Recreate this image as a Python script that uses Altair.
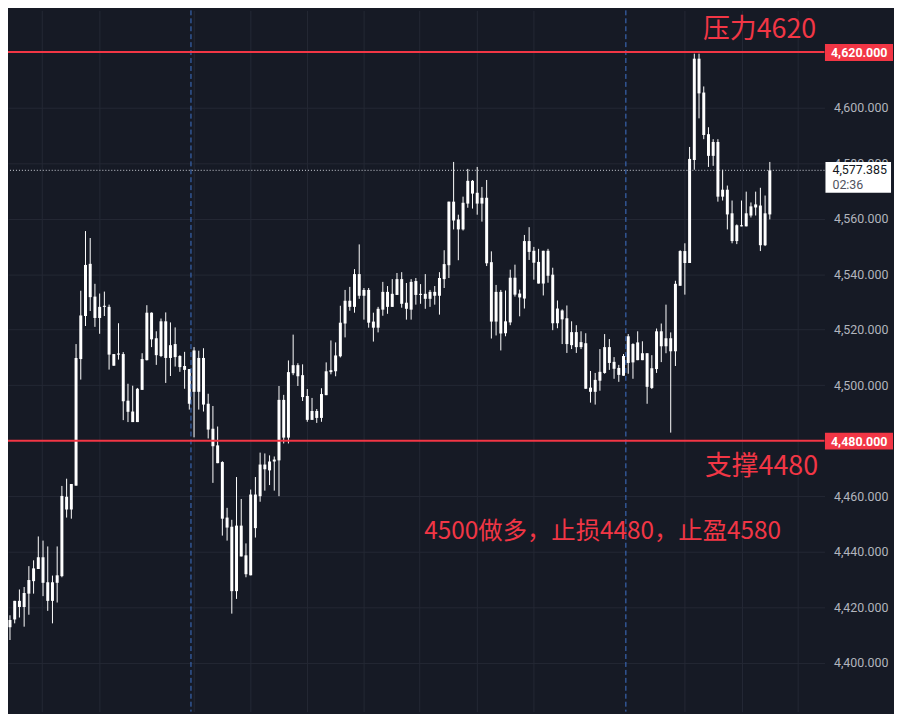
import altair as alt
import pandas as pd

# ---------------- data ----------------
open_ = [
    4412.8, 4415.6, 4422.3, 4420.1, 4424.9, 4429.4, 4433.8, 4438.0, 4429.0, 4422.3,
    4428.8, 4431.2, 4459.8, 4455.2, 4463.8, 4509.4, 4524.9, 4543.7, 4531.9, 4524.2,
    4528.2, 4528.2, 4511.2, 4511.0, 4511.2, 4494.4, 4490.5, 4486.7, 4498.3, 4509.0,
    4526.1, 4516.9, 4510.5, 4523.0, 4509.8, 4514.8, 4510.5, 4506.9, 4505.8, 4497.6,
    4509.8, 4509.8, 4493.3, 4484.3, 4478.3, 4472.3, 4452.3, 4449.0, 4425.8, 4449.4,
    4438.7, 4431.5, 4460.6, 4460.0, 4471.4, 4469.3, 4472.5, 4472.9, 4494.7, 4481.1,
    4504.3, 4507.2, 4503.6, 4496.1, 4487.5, 4490.7, 4488.2, 4496.4, 4505.4, 4505.0,
    4510.4, 4522.2, 4530.4, 4528.2, 4540.0, 4532.2, 4534.3, 4522.9, 4520.7, 4527.2,
    4533.6, 4528.2, 4532.5, 4538.2, 4529.7, 4527.2, 4537.5, 4532.5, 4532.9, 4531.1,
    4533.6, 4532.2, 4538.2, 4543.2, 4566.1, 4559.7, 4556.1, 4565.4, 4573.6, 4569.3,
    4565.4, 4567.5, 4544.3, 4522.9, 4533.6, 4518.7, 4522.6, 4538.7, 4533.0, 4531.2,
    4551.9, 4548.4, 4544.4, 4536.6, 4548.4, 4539.8, 4522.3, 4526.9, 4524.1, 4514.4,
    4519.1, 4513.7, 4515.1, 4499.1, 4497.6, 4501.6, 4504.4, 4513.7, 4508.4, 4506.2,
    4503.4, 4508.0, 4514.8, 4509.0, 4511.5, 4511.5, 4499.0, 4505.8, 4519.4, 4514.0,
    4516.9, 4512.2, 4535.8, 4548.3, 4544.0, 4581.1, 4617.6, 4605.4, 4590.4, 4582.6,
    4587.6, 4567.9, 4570.4, 4561.9, 4551.9, 4557.6, 4557.2, 4561.1, 4564.0, 4564.7,
    4550.4, 4561.5,
]
close = [
    4415.4, 4422.3, 4420.1, 4425.1, 4429.8, 4434.0, 4438.0, 4428.8, 4422.3, 4429.0,
    4431.5, 4460.1, 4455.2, 4464.4, 4509.8, 4525.1, 4543.3, 4531.7, 4524.2, 4528.2,
    4528.6, 4511.0, 4507.0, 4511.4, 4494.2, 4490.4, 4486.7, 4498.7, 4509.4, 4526.1,
    4516.5, 4510.8, 4523.0, 4509.8, 4514.4, 4510.1, 4506.5, 4505.5, 4493.3, 4512.5,
    4497.6, 4493.0, 4484.0, 4478.0, 4471.9, 4451.9, 4448.7, 4425.8, 4449.4, 4438.3,
    4431.9, 4460.6, 4448.5, 4471.4, 4469.7, 4472.5, 4473.2, 4494.7, 4481.1, 4504.7,
    4507.2, 4503.2, 4495.7, 4487.5, 4490.7, 4488.2, 4496.8, 4505.0, 4504.7, 4510.7,
    4522.5, 4530.4, 4528.2, 4540.0, 4532.2, 4534.3, 4522.5, 4520.7, 4527.5, 4533.6,
    4528.2, 4532.9, 4538.2, 4529.3, 4527.5, 4537.2, 4532.5, 4532.9, 4531.1, 4533.6,
    4532.2, 4538.6, 4543.6, 4566.1, 4559.3, 4556.1, 4565.7, 4573.6, 4569.0, 4565.4,
    4567.5, 4543.9, 4522.9, 4533.6, 4518.6, 4523.0, 4538.7, 4532.6, 4531.6, 4551.9,
    4548.0, 4544.1, 4536.6, 4548.4, 4539.4, 4522.3, 4527.6, 4523.7, 4514.8, 4519.1,
    4513.7, 4515.5, 4498.7, 4497.6, 4501.9, 4504.8, 4513.7, 4508.0, 4505.9, 4503.7,
    4510.5, 4517.6, 4508.2, 4515.4, 4509.0, 4499.4, 4506.1, 4519.4, 4514.0, 4516.9,
    4512.2, 4536.5, 4548.3, 4544.0, 4581.5, 4617.6, 4605.1, 4590.1, 4582.6, 4587.6,
    4567.9, 4570.4, 4561.5, 4551.9, 4557.6, 4557.2, 4561.9, 4564.4, 4565.1, 4550.4,
    4561.9, 4577.385,
]
high = [
    4417.1, 4422.3, 4426.4, 4427.3, 4434.8, 4436.9, 4445.5, 4444.0, 4441.9, 4431.4,
    4441.9, 4463.7, 4466.3, 4464.4, 4514.8, 4534.0, 4555.5, 4553.0, 4536.5, 4533.0,
    4533.7, 4529.0, 4511.2, 4522.3, 4511.9, 4500.5, 4499.8, 4499.0, 4511.5, 4528.8,
    4526.2, 4519.4, 4524.0, 4526.2, 4522.6, 4520.8, 4510.8, 4512.0, 4505.8, 4513.7,
    4512.4, 4513.3, 4496.9, 4492.5, 4485.1, 4472.6, 4455.8, 4451.5, 4466.9, 4459.0,
    4443.0, 4462.4, 4466.9, 4475.7, 4475.4, 4474.7, 4474.3, 4499.7, 4496.5, 4508.9,
    4518.2, 4507.9, 4507.5, 4498.6, 4495.4, 4491.4, 4498.9, 4508.2, 4516.1, 4515.4,
    4528.6, 4534.3, 4535.4, 4541.8, 4550.7, 4535.0, 4535.0, 4526.1, 4528.2, 4537.2,
    4535.7, 4538.2, 4540.4, 4540.7, 4536.8, 4538.2, 4538.6, 4536.4, 4540.0, 4534.3,
    4535.7, 4540.7, 4548.6, 4566.1, 4580.4, 4561.4, 4567.9, 4577.9, 4573.9, 4578.6,
    4571.4, 4573.9, 4548.2, 4536.1, 4534.3, 4534.1, 4541.6, 4543.4, 4534.4, 4554.1,
    4556.9, 4549.8, 4549.1, 4548.4, 4549.1, 4542.3, 4530.5, 4527.3, 4528.7, 4523.0,
    4521.6, 4519.4, 4518.7, 4505.1, 4504.4, 4513.0, 4518.4, 4516.6, 4510.1, 4507.3,
    4511.2, 4518.4, 4515.1, 4519.4, 4515.8, 4511.5, 4510.8, 4520.4, 4522.2, 4529.0,
    4519.0, 4537.6, 4548.6, 4551.1, 4585.8, 4619.4, 4619.4, 4607.6, 4592.9, 4588.6,
    4588.6, 4577.6, 4571.9, 4566.5, 4557.9, 4566.5, 4569.7, 4565.8, 4569.7, 4571.1,
    4568.3, 4580.4,
]
low = [
    4408.2, 4414.2, 4416.3, 4413.0, 4417.3, 4424.9, 4433.8, 4424.0, 4418.7, 4414.2,
    4421.7, 4430.8, 4452.3, 4451.9, 4463.8, 4502.0, 4521.3, 4526.7, 4521.0, 4518.5,
    4524.9, 4505.6, 4507.0, 4509.2, 4487.4, 4486.7, 4486.7, 4486.7, 4498.3, 4508.9,
    4513.7, 4507.3, 4510.1, 4500.8, 4503.3, 4506.7, 4504.8, 4498.7, 4491.2, 4481.2,
    4491.2, 4490.5, 4480.8, 4464.8, 4471.9, 4445.8, 4444.0, 4417.7, 4423.0, 4438.3,
    4430.8, 4431.5, 4445.1, 4458.0, 4462.0, 4464.0, 4462.0, 4460.0, 4479.0, 4479.0,
    4503.6, 4499.7, 4494.3, 4486.8, 4487.5, 4486.4, 4486.8, 4496.4, 4503.9, 4503.2,
    4510.0, 4517.2, 4526.8, 4526.1, 4531.1, 4523.6, 4520.7, 4515.7, 4519.0, 4525.0,
    4525.7, 4528.2, 4532.5, 4527.9, 4523.6, 4523.6, 4529.0, 4529.3, 4527.5, 4528.2,
    4529.0, 4525.4, 4535.0, 4538.6, 4556.1, 4545.0, 4555.7, 4563.9, 4563.6, 4561.4,
    4558.9, 4542.9, 4516.8, 4517.9, 4512.5, 4517.6, 4521.6, 4531.9, 4524.8, 4527.6,
    4545.1, 4538.0, 4536.6, 4532.3, 4536.9, 4519.8, 4520.5, 4514.8, 4511.6, 4513.0,
    4511.6, 4513.0, 4498.7, 4493.7, 4493.0, 4498.0, 4504.1, 4505.5, 4502.3, 4501.2,
    4503.4, 4504.1, 4502.3, 4509.0, 4509.0, 4493.3, 4498.6, 4504.4, 4508.3, 4511.5,
    4482.9, 4506.9, 4535.8, 4532.6, 4544.0, 4577.6, 4596.1, 4588.6, 4578.6, 4579.0,
    4566.1, 4566.5, 4556.1, 4551.1, 4550.8, 4557.2, 4557.2, 4560.4, 4561.1, 4548.3,
    4550.1, 4559.7,
]

levels = [4620, 4480]                      # red support / resistance lines
last_price = [4577.385]
countdown = ["02:36"]
session_breaks = [39.35, 131.5]            # candle index of blue dashed lines
notes = ["压力4620", "支撑4480", "4500做多，止损4480，止盈4580"]
note_idx = [147.85, 148.25, 88.8]
note_price = [4628.0, 4470.5, 4447.0]
y_ticks = [4400, 4420, 4440, 4460, 4500, 4520, 4540, 4560, 4580, 4600]
x_grid = [7.8, 19.9, 39.9, 52.0, 63.9, 75.9, 87.8, 99.9, 111.9, 144.0, 156.1, 168.0]

# ---------------- chart ----------------
n = min(len(open_), len(close), len(high), len(low))
df = pd.DataFrame({
    "i": list(range(1, n + 1)),
    "open": open_[:n], "close": close[:n], "high": high[:n], "low": low[:n],
})
lv = pd.DataFrame({"level": levels})
lp = pd.DataFrame({"price": last_price, "t": countdown})
sb = pd.DataFrame({"i": session_breaks})
nt = pd.DataFrame({"i": note_idx, "p": note_price, "txt": notes})

BG = "#161a25"
GRID = "#242834"
RED = "#f23645"
W, H = 822, 706

xs = alt.Scale(domain=[0.58, 173.58], nice=False, zero=False, padding=0)
ys = alt.Scale(domain=[4382.4, 4635.0], nice=False, zero=False, padding=0)

x_axis = alt.Axis(values=x_grid, grid=True, gridColor=GRID, labels=False,
                  ticks=False, domain=False, title=None)
y_axis = alt.Axis(orient="right", values=y_ticks, format=",.3f", grid=True,
                  gridColor=GRID, labelFont="Roboto", labelFontSize=12.5,
                  labelColor="#b2b5be", labelAlign="left", labelPadding=9,
                  ticks=False, domain=False, title=None, labelOverlap=False,
                  labelFlush=False)


def X(f):
    return alt.X(f, scale=xs, axis=x_axis)


def Y(f):
    return alt.Y(f, scale=ys, axis=y_axis)


wicks = alt.Chart(df).mark_rule(color="#ffffff", strokeWidth=1).encode(
    x=X("i:Q"), y=Y("low:Q"), y2="high:Q",
)
bodies = alt.Chart(df).mark_bar(color="#ffffff", size=3).encode(
    x=X("i:Q"), y=Y("open:Q"), y2="close:Q",
)
breaks = alt.Chart(sb).mark_rule(color="#3f74cc", strokeDash=[5, 3], strokeWidth=1).encode(
    x=X("i:Q"),
)
red_lines = alt.Chart(lv).mark_rule(color=RED, strokeWidth=2).encode(
    y=Y("level:Q"),
)
red_boxes = alt.Chart(lv).mark_rect(color=RED, yOffset=-8, y2Offset=9).encode(
    x=alt.value(822.5), x2=alt.value(891),
    y=Y("level:Q"), y2="level:Q",
)
red_text = alt.Chart(lv).mark_text(color="#ffffff", font="Roboto", fontSize=12.5,
                                   fontWeight="bold", align="center",
                                   baseline="middle", dy=1).encode(
    x=alt.value(857),
    y=Y("level:Q"),
    text=alt.Text("level:Q", format=",.3f"),
)
dotted = alt.Chart(lp).mark_rule(color="#d1d4dc", strokeDash=[1, 2], strokeWidth=1).encode(
    y=Y("price:Q"),
)
price_box = alt.Chart(lp).mark_rect(color="#ffffff", yOffset=-8.5, y2Offset=22.5).encode(
    x=alt.value(823), x2=alt.value(889),
    y=Y("price:Q"), y2="price:Q",
)
price_text = alt.Chart(lp).mark_text(color="#131722", font="Roboto", fontSize=12.5,
                                     align="left", baseline="middle").encode(
    x=alt.value(830),
    y=Y("price:Q"),
    text=alt.Text("price:Q", format=",.3f"),
)
time_text = alt.Chart(lp).mark_text(color="#50535e", font="Roboto", fontSize=12.5,
                                    align="left", baseline="middle", dy=15).encode(
    x=alt.value(830),
    y=Y("price:Q"),
    text="t:N",
)
big_notes = alt.Chart(nt).transform_filter("length(datum.txt) < 8").mark_text(
    color=RED, font="Noto Sans CJK SC", fontSize=27, align="left", baseline="middle"
).encode(
    x=X("i:Q"), y=Y("p:Q"), text="txt:N",
)
plan_note = alt.Chart(nt).transform_filter("length(datum.txt) >= 8").mark_text(
    color=RED, font="Noto Sans CJK SC", fontSize=24.5, align="left", baseline="middle"
).encode(
    x=X("i:Q"), y=Y("p:Q"), text="txt:N",
)

chart = alt.layer(
    wicks, bodies, breaks, red_lines, dotted, big_notes, plan_note,
    red_boxes, red_text, price_box, price_text, time_text,
).properties(
    width=W, height=H,
    autosize=alt.AutoSizeParams(type="none"),
    padding={"left": 0, "top": 0, "right": 70, "bottom": 0},
    background=BG,
).configure_view(strokeWidth=0)

chart.save("out.html", embed_options={"renderer": "svg", "actions": False})
